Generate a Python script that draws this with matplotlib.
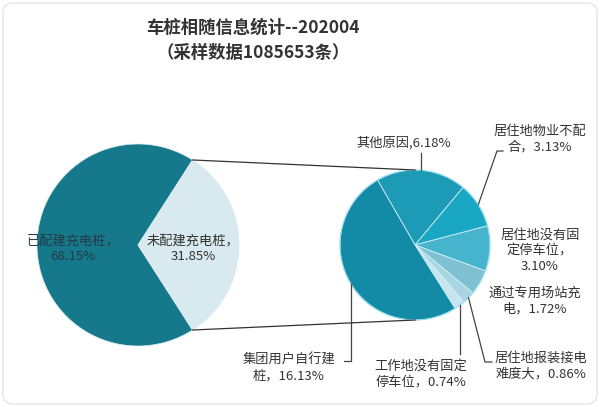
import matplotlib.pyplot as plt
import matplotlib.patches as mpatches
import numpy as np

plt.rcParams['font.family'] = ['Noto Sans CJK SC', 'DejaVu Sans']

# data
title = "车桩相随信息统计--202004\n（采样数据1085653条）"
left_labels = ["已配建充电桩，\n68.15%", "未配建充电桩，\n31.85%"]
left_values = [68.15, 31.85]
right_labels = ["其他原因,6.18%",
                "居住地物业不配\n合，3.13%",
                "居住地没有固\n定停车位，\n3.10%",
                "通过专用场站充\n电，1.72%",
                "居住地报装接电\n难度大，0.86%",
                "工作地没有固定\n停车位，0.74%",
                "集团用户自行建\n桩，16.13%"]
right_values = [6.18, 3.13, 3.10, 1.72, 0.86, 0.74, 16.13]

left_colors = ["#15798b", "#d8e9f0"]
right_colors = ["#1d9bb6", "#19a7c4", "#47b4cd", "#7fc1d3",
                "#a9d5e2", "#c6e5ee", "#138ba6"]

W, H = 600, 407
fig = plt.figure(figsize=(6, 4.07), dpi=100)
ax = fig.add_axes([0, 0, 1, 1])

# pixel-style coordinates, y up
def py(y):
    return H - y

lc, lr = (138, py(245)), 101
rc, rr = (415, py(245)), 75

lw_, _ = ax.pie(left_values, colors=left_colors, center=lc, radius=lr,
                startangle=180 * left_values[1] / 100, counterclock=True,
                wedgeprops=dict(edgecolor="#d8e9f0", linewidth=0.5),
                frame=True)
rw_, _ = ax.pie(right_values, colors=right_colors, center=rc, radius=rr,
                startangle=120, counterclock=False,
                wedgeprops=dict(edgecolor="#cdeef6", linewidth=0.6),
                frame=True)
# outline of right pie
ax.add_patch(mpatches.Circle(rc, rr, fill=False, edgecolor="#8fdcec", lw=0.8))

# left slice texts
ax.text(73, py(249), left_labels[0], ha="center", va="center",
        fontsize=9.5, color="#253a46", linespacing=1.2)
ax.text(193, py(249), left_labels[1], ha="center", va="center",
        fontsize=9.5, color="#333333", linespacing=1.2)

# connection lines between pies
a = np.deg2rad(180 * left_values[1] / 100)
for s in (1, -1):
    p0 = (lc[0] + lr * np.cos(a), lc[1] + s * lr * np.sin(a))
    p1 = (rc[0], rc[1] + s * rr)
    ax.plot([p0[0], p1[0]], [p0[1], p1[1]], color="#333333", lw=0.9)

def edge(i, k=1.0):
    w = rw_[i]
    m = np.deg2rad((w.theta1 + w.theta2) / 2)
    return rc[0] + k * rr * np.cos(m), rc[1] + k * rr * np.sin(m)

lab_pos = [(404, 143), (540, 139), (540, 251), (535, 301),
           (541, 366), (421, 374), (289, 368)]
for lab, (x, y) in zip(right_labels, lab_pos):
    ax.text(x, py(y), lab, ha="center", va="center", fontsize=9.5,
            color="#333333", linespacing=1.25)

lc_ = "#444444"
# 其他原因
ex, ey = edge(0)
ax.plot([ex, ex], [ey, py(153)], color=lc_, lw=0.9)
# 物业不配合
ex, ey = edge(1)
ax.plot([ex, 497, 503], [ey, py(151), py(151)], color=lc_, lw=0.9)
# 报装接电
ex, ey = edge(4)
ax.plot([ex, 485, 492], [ey, py(362), py(362)], color=lc_, lw=0.9)
# 工作地
ex, ey = edge(5)
ax.plot([ex, ex], [ey, py(354)], color=lc_, lw=0.9)
# 集团用户
ex, ey = edge(6)
ax.plot([ex, ex, ex - 7], [ey, py(361), py(361)], color=lc_, lw=0.9)

ax.text(253, py(40), title, ha="center", va="center", fontsize=12.5,
        fontweight="bold", color="#333333", linespacing=1.55)

# light rounded frame
ax.add_patch(mpatches.FancyBboxPatch((3, 3), W - 6, H - 6,
             boxstyle="round,pad=0,rounding_size=10",
             fill=False, edgecolor="#e6e6e6", lw=1))

ax.set_xlim(0, W)
ax.set_ylim(0, H)
ax.set_aspect("equal")
ax.axis("off")

fig.savefig("out.png", dpi=100)
